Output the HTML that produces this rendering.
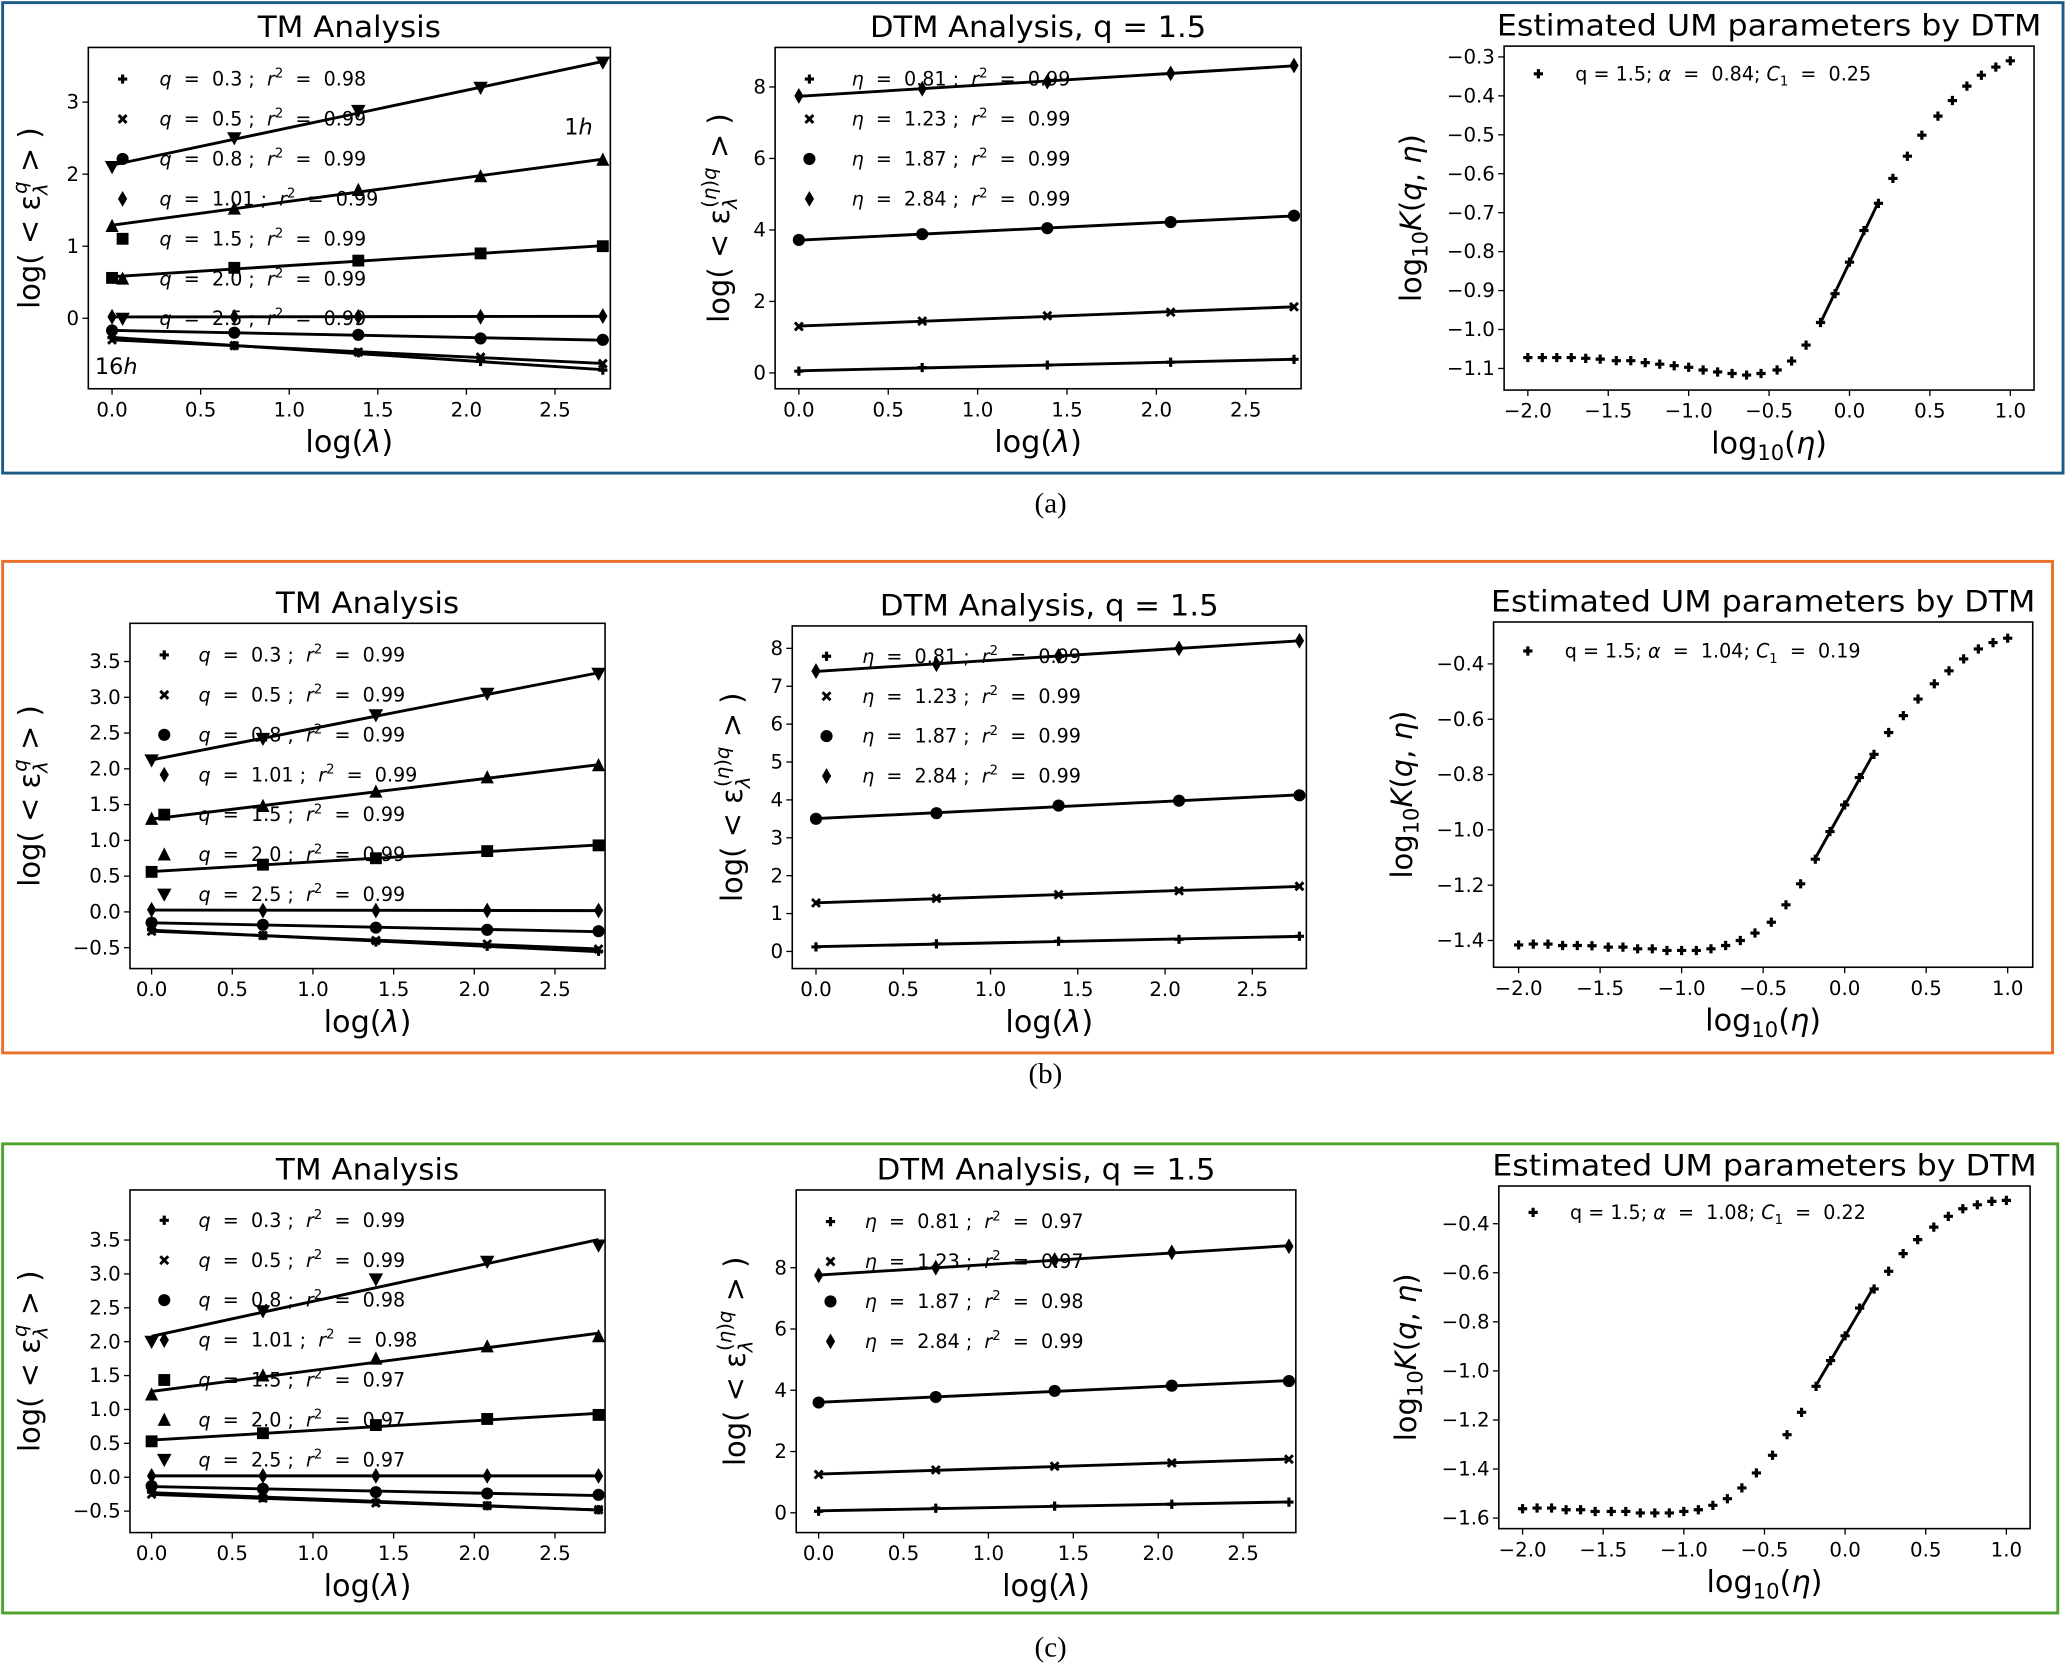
<!DOCTYPE html>
<html><head><meta charset="utf-8"><style>
html,body{margin:0;padding:0;background:#fff;}
svg{display:block;}
text{font-family:"DejaVu Sans","Liberation Sans",sans-serif;fill:#000;}
.pre{white-space:pre;}
</style></head><body>
<svg id="fig" xmlns="http://www.w3.org/2000/svg" width="2067" height="1667" viewBox="0 0 1568 1265" preserveAspectRatio="none">
<rect x="0" y="0" width="1568" height="1265" fill="#fff"/>
<rect x="2" y="2" width="1563" height="357" fill="none" stroke="#1b5c87" stroke-width="2.2"/>
<rect x="2" y="426" width="1555" height="373" fill="none" stroke="#e8702a" stroke-width="2.2"/>
<rect x="2" y="868" width="1559" height="356" fill="none" stroke="#4da32c" stroke-width="2.2"/>
<text x="797" y="389" text-anchor="middle" font-size="22" style="font-family:'Liberation Serif',serif">(a)</text>
<text x="793" y="822" text-anchor="middle" font-size="22" style="font-family:'Liberation Serif',serif">(b)</text>
<text x="797" y="1257" text-anchor="middle" font-size="22" style="font-family:'Liberation Serif',serif">(c)</text>
</svg>
<script>
// ---------- data ----------
const logLambda = [0, 0.69, 1.39, 2.08, 2.77];
const tmQ = ['0.3','0.5','0.8','1.01','1.5','2.0','2.5'];
const tmMarkers = ['plus','x','circle','diamond','square','tri','tridown'];
const tmA_r2 = ['0.98','0.99','0.99','0.99','0.99','0.99','0.99'];
const tmB_r2 = ['0.99','0.99','0.99','0.99','0.99','0.99','0.99'];
const tmC_r2 = ['0.99','0.99','0.98','0.98','0.97','0.97','0.97'];
const tmA_q03 = [-0.27,-0.38,-0.48,-0.60,-0.72];
const tmA_q05 = [-0.30,-0.38,-0.47,-0.54,-0.63];
const tmA_q08 = [-0.17,-0.20,-0.23,-0.28,-0.30];
const tmA_q101 = [0.02,0.02,0.02,0.02,0.03];
const tmA_q15 = [0.56,0.70,0.80,0.90,1.00];
const tmA_q20 = [1.28,1.52,1.78,1.97,2.20];
const tmA_q25 = [2.10,2.50,2.88,3.20,3.55];
const tmB_q03 = [-0.25,-0.33,-0.42,-0.48,-0.55];
const tmB_q05 = [-0.27,-0.33,-0.40,-0.45,-0.52];
const tmB_q08 = [-0.15,-0.18,-0.22,-0.25,-0.27];
const tmB_q101 = [0.03,0.02,0.02,0.02,0.02];
const tmB_q15 = [0.56,0.66,0.75,0.85,0.93];
const tmB_q20 = [1.30,1.48,1.68,1.88,2.05];
const tmB_q25 = [2.12,2.42,2.75,3.05,3.33];
const tmC_q03 = [-0.22,-0.30,-0.36,-0.42,-0.48];
const tmC_q05 = [-0.25,-0.31,-0.38,-0.42,-0.48];
const tmC_q08 = [-0.13,-0.17,-0.22,-0.24,-0.26];
const tmC_q101 = [0.02,0.02,0.02,0.02,0.02];
const tmC_q15 = [0.53,0.65,0.77,0.86,0.92];
const tmC_q20 = [1.22,1.50,1.75,1.93,2.08];
const tmC_q25 = [2.00,2.45,2.92,3.18,3.42];
const dtmEta = ['0.81','1.23','1.87','2.84'];
const dtmMarkers = ['plus','x','circle','diamond'];
const dtmA_r2 = ['0.99','0.99','0.99','0.99'];
const dtmB_r2 = ['0.99','0.99','0.99','0.99'];
const dtmC_r2 = ['0.97','0.97','0.98','0.99'];
const dtmA_e081 = [0.05,0.15,0.22,0.30,0.38];
const dtmA_e123 = [1.30,1.45,1.60,1.70,1.85];
const dtmA_e187 = [3.72,3.88,4.05,4.22,4.40];
const dtmA_e284 = [7.75,7.95,8.15,8.38,8.60];
const dtmB_e081 = [0.12,0.20,0.27,0.32,0.40];
const dtmB_e123 = [1.28,1.40,1.50,1.60,1.72];
const dtmB_e187 = [3.50,3.65,3.85,3.98,4.12];
const dtmB_e284 = [7.40,7.58,7.80,8.00,8.20];
const dtmC_e081 = [0.05,0.15,0.22,0.28,0.35];
const dtmC_e123 = [1.25,1.40,1.52,1.63,1.75];
const dtmC_e187 = [3.60,3.78,3.98,4.15,4.30];
const dtmC_e284 = [7.75,8.00,8.25,8.50,8.70];
const umLogEta = [-2.00,-1.91,-1.82,-1.73,-1.64,-1.55,-1.45,-1.36,-1.27,-1.18,-1.09,-1.00,-0.91,-0.82,-0.73,-0.64,-0.55,-0.45,-0.36,-0.27,-0.18,-0.09,0.00,0.09,0.18,0.27,0.36,0.45,0.55,0.64,0.73,0.82,0.91,1.00];
const umA_K = [-1.072,-1.072,-1.072,-1.072,-1.074,-1.076,-1.080,-1.080,-1.085,-1.089,-1.093,-1.097,-1.104,-1.109,-1.113,-1.117,-1.113,-1.104,-1.081,-1.040,-0.982,-0.908,-0.827,-0.746,-0.676,-0.612,-0.555,-0.501,-0.452,-0.412,-0.375,-0.347,-0.326,-0.310];
const umB_K = [-1.416,-1.413,-1.413,-1.418,-1.418,-1.419,-1.424,-1.424,-1.430,-1.430,-1.436,-1.436,-1.436,-1.430,-1.418,-1.400,-1.373,-1.334,-1.271,-1.195,-1.106,-1.006,-0.910,-0.811,-0.727,-0.648,-0.587,-0.527,-0.472,-0.425,-0.382,-0.346,-0.323,-0.307];
const umC_K = [-1.562,-1.559,-1.559,-1.566,-1.566,-1.573,-1.573,-1.573,-1.579,-1.579,-1.579,-1.573,-1.566,-1.548,-1.521,-1.477,-1.416,-1.344,-1.260,-1.169,-1.063,-0.958,-0.857,-0.744,-0.666,-0.594,-0.522,-0.465,-0.414,-0.370,-0.339,-0.323,-0.309,-0.305];
const umLabels = ['q = 1.5; <tspan font-style="italic">α</tspan>  =  0.84; <tspan font-style="italic">C</tspan><tspan dy="4" font-size="10">1</tspan><tspan dy="-4">  =  0.25</tspan>',
                  'q = 1.5; <tspan font-style="italic">α</tspan>  =  1.04; <tspan font-style="italic">C</tspan><tspan dy="4" font-size="10">1</tspan><tspan dy="-4">  =  0.19</tspan>',
                  'q = 1.5; <tspan font-style="italic">α</tspan>  =  1.08; <tspan font-style="italic">C</tspan><tspan dy="4" font-size="10">1</tspan><tspan dy="-4">  =  0.22</tspan>'];
const lamTicks = [0,0.5,1.0,1.5,2.0,2.5];
const lamTickLabels = ['0.0','0.5','1.0','1.5','2.0','2.5'];
const tmATicks = [0,1,2,3];
const tmATickLabels = ['0','1','2','3'];
const tmBCTicks = [-0.5,0,0.5,1,1.5,2,2.5,3,3.5];
const tmBCTickLabels = ['−0.5','0.0','0.5','1.0','1.5','2.0','2.5','3.0','3.5'];
const dtmACTicks = [0,2,4,6,8];
const dtmACTickLabels = ['0','2','4','6','8'];
const dtmBTicks = [0,1,2,3,4,5,6,7,8];
const dtmBTickLabels = ['0','1','2','3','4','5','6','7','8'];
const umXTicks = [-2,-1.5,-1,-0.5,0,0.5,1];
const umXTickLabels = ['−2.0','−1.5','−1.0','−0.5','0.0','0.5','1.0'];
const umATicks = [-1.1,-1.0,-0.9,-0.8,-0.7,-0.6,-0.5,-0.4,-0.3];
const umATickLabels = ['−1.1','−1.0','−0.9','−0.8','−0.7','−0.6','−0.5','−0.4','−0.3'];
const umBTicks = [-1.4,-1.2,-1.0,-0.8,-0.6,-0.4];
const umBTickLabels = ['−1.4','−1.2','−1.0','−0.8','−0.6','−0.4'];
const umCTicks = [-1.6,-1.4,-1.2,-1.0,-0.8,-0.6,-0.4];
const umCTickLabels = ['−1.6','−1.4','−1.2','−1.0','−0.8','−0.6','−0.4'];
const umFitRange = [-0.2, 0.2];

// ---------- drawing ----------
const NS = 'http://www.w3.org/2000/svg';
const svg = document.getElementById('fig');
function mk(tag, parent){ const e = document.createElementNS(NS, tag); parent.appendChild(e); return e; }

function drawMarker(g, type, cx, cy){
  let e;
  if (type === 'circle'){ e = mk('circle', g); e.setAttribute('cx', cx); e.setAttribute('cy', cy); e.setAttribute('r', 4.6); e.setAttribute('fill', '#000'); }
  else if (type === 'square'){ e = mk('rect', g); e.setAttribute('x', cx-4.5); e.setAttribute('y', cy-4.5); e.setAttribute('width', 9); e.setAttribute('height', 9); e.setAttribute('fill', '#000'); }
  else if (type === 'tri'){ e = mk('polygon', g); e.setAttribute('points', `${cx},${cy-5.5} ${cx+5},${cy+4.5} ${cx-5},${cy+4.5}`); e.setAttribute('fill', '#000'); }
  else if (type === 'tridown'){ e = mk('polygon', g); e.setAttribute('points', `${cx},${cy+5.5} ${cx+5.5},${cy-4.5} ${cx-5.5},${cy-4.5}`); e.setAttribute('fill', '#000'); }
  else if (type === 'diamond'){ e = mk('polygon', g); e.setAttribute('points', `${cx},${cy-6} ${cx+3.5},${cy} ${cx},${cy+6} ${cx-3.5},${cy}`); e.setAttribute('fill', '#000'); }
  else if (type === 'x'){ e = mk('path', g); e.setAttribute('d', `M${cx-3},${cy-3}L${cx+3},${cy+3}M${cx-3},${cy+3}L${cx+3},${cy-3}`); e.setAttribute('stroke', '#000'); e.setAttribute('stroke-width', 2.2); }
  else { e = mk('path', g); e.setAttribute('d', `M${cx-3.5},${cy}L${cx+3.5},${cy}M${cx},${cy-3.5}L${cx},${cy+3.5}`); e.setAttribute('stroke', '#000'); e.setAttribute('stroke-width', 2.4); }
  
  
}

function fitLine(xs, ys){
  const n = xs.length; let sx=0, sy=0, sxx=0, sxy=0;
  for (let i=0;i<n;i++){ sx+=xs[i]; sy+=ys[i]; sxx+=xs[i]*xs[i]; sxy+=xs[i]*ys[i]; }
  const m = (n*sxy - sx*sy)/(n*sxx - sx*sx); return [m, (sy - m*sx)/n];
}

function plot(p){
  const g = mk('g', svg);
  
  
  const X = v => p.xr[1] + (v - p.xr[0]) * (p.xr[3] - p.xr[1]) / (p.xr[2] - p.xr[0]);
  const Y = v => p.yr[1] + (v - p.yr[0]) * (p.yr[3] - p.yr[1]) / (p.yr[2] - p.yr[0]);
  const t = mk('text', g); t.textContent = p.title;
  
  
  t.setAttribute('x', (p.l + p.r) / 2); t.setAttribute('y', p.t - 8); t.setAttribute('text-anchor', 'middle'); t.setAttribute('font-size', 22);
  t.setAttribute('textLength', p.titleW); t.setAttribute('lengthAdjust', 'spacingAndGlyphs');
  p.xticks.forEach((v, i) => {
    const tk = mk('line', g); tk.setAttribute('x1', X(v)); tk.setAttribute('x2', X(v)); tk.setAttribute('y1', p.b); tk.setAttribute('y2', p.b + 4.5); tk.setAttribute('stroke', '#000');
    
    
    const tl = mk('text', g); tl.textContent = p.xtickLabels[i];
    
    
    tl.setAttribute('x', X(v)); tl.setAttribute('y', p.b + 21); tl.setAttribute('text-anchor', 'middle'); tl.setAttribute('font-size', 15);
  });
  p.yticks.forEach((v, i) => {
    const tk = mk('line', g); tk.setAttribute('x1', p.l - 4.5); tk.setAttribute('x2', p.l); tk.setAttribute('y1', Y(v)); tk.setAttribute('y2', Y(v)); tk.setAttribute('stroke', '#000');
    
    
    const tl = mk('text', g); tl.textContent = p.ytickLabels[i];
    
    
    tl.setAttribute('x', p.l - 7); tl.setAttribute('y', Y(v) + 5); tl.setAttribute('text-anchor', 'end'); tl.setAttribute('font-size', 15);
  });
  const xl = mk('text', g); xl.innerHTML = p.xlabel;
  
  
  xl.setAttribute('x', (p.l + p.r) / 2); xl.setAttribute('y', p.b + 48); xl.setAttribute('text-anchor', 'middle'); xl.setAttribute('font-size', 23);
  const yl = mk('text', g); yl.innerHTML = p.ylabel;
  
  
  const yc = (p.t + p.b) / 2;
  yl.setAttribute('transform', `translate(${p.ylx},${yc}) rotate(-90)`); yl.setAttribute('text-anchor', 'middle'); yl.setAttribute('font-size', 22);
  p.series.forEach((s, si) => {
    const sg = mk('g', g);
    
    
    if (s.fit){
      let fx = [], fy = [];
      s.x.forEach((xv, i) => { if (xv >= s.fit[0] && xv <= s.fit[1]) { fx.push(xv); fy.push(s.y[i]); } });
      const [m, c] = fitLine(fx, fy);
      const x0 = fx[0], x1 = fx[fx.length - 1];
      const ln = mk('line', sg);
      
      
      ln.setAttribute('x1', X(x0)); ln.setAttribute('y1', Y(m*x0 + c)); ln.setAttribute('x2', X(x1)); ln.setAttribute('y2', Y(m*x1 + c));
      ln.setAttribute('stroke', '#000'); ln.setAttribute('stroke-width', 2.2);
    }
    s.x.forEach((xv, i) => drawMarker(sg, s.marker, X(xv), Y(s.y[i])));
  });
  p.legend.forEach((lg, i) => {
    const ly = p.t + p.legOff + i * 30.3;
    const lgG = mk('g', g);
    
    
    drawMarker(lgG, lg.marker, p.l + 26, ly);
    const lt = mk('text', lgG); lt.innerHTML = lg.text;
    lt.setAttribute('class', 'pre');
    lt.setAttribute('x', p.l + p.legTx); lt.setAttribute('y', ly + 5); lt.setAttribute('font-size', 14.5);
  });
  (p.notes || []).forEach(n => {
    const nt = mk('text', g); nt.innerHTML = n.text;
    
    
    nt.setAttribute('x', n.x); nt.setAttribute('y', n.y); nt.setAttribute('font-size', 17);
  });
  const box = mk('rect', g);
  
  
  box.setAttribute('x', p.l); box.setAttribute('y', p.t); box.setAttribute('width', p.r - p.l); box.setAttribute('height', p.b - p.t);
  box.setAttribute('fill', 'none'); box.setAttribute('stroke', '#000'); box.setAttribute('stroke-width', 1.2);
}

const lamLabel = 'log(<tspan font-style="italic">λ</tspan>)';
const etaLabel = 'log<tspan dy="5" font-size="16">10</tspan><tspan dy="-5">(</tspan><tspan font-style="italic">η</tspan>)';
const tmYLabel = 'log( &lt; ε<tspan dy="6" font-size="15" font-style="italic">λ</tspan><tspan dx="-8" dy="-16" font-size="15" font-style="italic">q</tspan><tspan dy="10"> &gt; )</tspan>';
const dtmYLabel = 'log( &lt; ε<tspan dy="6" font-size="15" font-style="italic">λ</tspan><tspan dx="-8" dy="-16" font-size="15">(<tspan font-style="italic">η</tspan>)<tspan font-style="italic">q</tspan></tspan><tspan dy="10"> &gt; )</tspan>';
const umYLabel = 'log<tspan dy="5" font-size="16">10</tspan><tspan dy="-5" font-style="italic">K</tspan>(<tspan font-style="italic">q</tspan>, <tspan font-style="italic">η</tspan>)';

function tmLeg(r2){ return tmQ.map((q, i) => ({marker: tmMarkers[i], text: `<tspan font-style="italic">q</tspan>  =  ${q} ;  <tspan font-style="italic">r</tspan><tspan dy="-6" font-size="10">2</tspan><tspan dy="6">  =  ${r2[i]}</tspan>`})); }
function dtmLeg(r2){ return dtmEta.map((e, i) => ({marker: dtmMarkers[i], text: `<tspan font-style="italic">η</tspan>  =  ${e} ;  <tspan font-style="italic">r</tspan><tspan dy="-6" font-size="10">2</tspan><tspan dy="6">  =  ${r2[i]}</tspan>`})); }
function tmSeries(arrs){ return arrs.map((a, i) => ({key: 'q-' + tmQ[i], marker: tmMarkers[i], x: logLambda, y: a, fit: [-1, 9]})); }
function dtmSeries(arrs){ return arrs.map((a, i) => ({key: 'eta-' + dtmEta[i], marker: dtmMarkers[i], x: logLambda, y: a, fit: [-1, 9]})); }

// Panel (a)
plot({name:'tm-plot-a', title:'TM Analysis', titleW:139, l:67, t:36, r:463, b:295, xr:[0,85,2.5,421], yr:[0,241.5,3,77.5],
  xticks:lamTicks, xtickLabels:lamTickLabels, yticks:tmATicks, ytickLabels:tmATickLabels, xlabel:lamLabel, ylabel:tmYLabel, ylx:30,
  series: tmSeries([tmA_q03,tmA_q05,tmA_q08,tmA_q101,tmA_q15,tmA_q20,tmA_q25]), legend: tmLeg(tmA_r2), legOff:24, legTx:54,
  notes:[{x:428,y:102,text:'1<tspan font-style="italic">h</tspan>'},{x:72,y:284,text:'16<tspan font-style="italic">h</tspan>'}]});
plot({name:'dtm-plot-a', title:'DTM Analysis, q = 1.5', titleW:255, l:588, t:36, r:987, b:295, xr:[0,606,2.5,945], yr:[0,283,8,66],
  xticks:lamTicks, xtickLabels:lamTickLabels, yticks:dtmACTicks, ytickLabels:dtmACTickLabels, xlabel:lamLabel, ylabel:dtmYLabel, ylx:553,
  series: dtmSeries([dtmA_e081,dtmA_e123,dtmA_e187,dtmA_e284]), legend: dtmLeg(dtmA_r2), legOff:24, legTx:58});
plot({name:'um-plot-a', title:'Estimated UM parameters by DTM', titleW:413, l:1141, t:35, r:1543, b:296, xr:[-2,1159,1,1525], yr:[-0.3,43.2,-1.1,279.6],
  xticks:umXTicks, xtickLabels:umXTickLabels, yticks:umATicks, ytickLabels:umATickLabels, xlabel:etaLabel, ylabel:umYLabel, ylx:1078,
  series:[{key:'K-a', marker:'plus', x:umLogEta, y:umA_K, fit:umFitRange}], legend:[{marker:'plus', text:umLabels[0]}], legOff:21, legTx:54});
// Panel (b)
plot({name:'tm-plot-b', title:'TM Analysis', titleW:139, l:98.6, t:473, r:459, b:735, xr:[0,115,2.5,421], yr:[0,692,3.5,502],
  xticks:lamTicks, xtickLabels:lamTickLabels, yticks:tmBCTicks, ytickLabels:tmBCTickLabels, xlabel:lamLabel, ylabel:tmYLabel, ylx:30,
  series: tmSeries([tmB_q03,tmB_q05,tmB_q08,tmB_q101,tmB_q15,tmB_q20,tmB_q25]), legend: tmLeg(tmB_r2), legOff:24, legTx:52});
plot({name:'dtm-plot-b', title:'DTM Analysis, q = 1.5', titleW:257, l:601, t:475, r:991, b:735, xr:[0,619,2.5,950], yr:[0,722,8,492],
  xticks:lamTicks, xtickLabels:lamTickLabels, yticks:dtmBTicks, ytickLabels:dtmBTickLabels, xlabel:lamLabel, ylabel:dtmYLabel, ylx:563,
  series: dtmSeries([dtmB_e081,dtmB_e123,dtmB_e187,dtmB_e284]), legend: dtmLeg(dtmB_r2), legOff:23, legTx:53});
plot({name:'um-plot-b', title:'Estimated UM parameters by DTM', titleW:413, l:1133, t:472, r:1542, b:734, xr:[-2,1152,1,1523], yr:[-0.4,503.8,-1.4,713.7],
  xticks:umXTicks, xtickLabels:umXTickLabels, yticks:umBTicks, ytickLabels:umBTickLabels, xlabel:etaLabel, ylabel:umYLabel, ylx:1071,
  series:[{key:'K-b', marker:'plus', x:umLogEta, y:umB_K, fit:umFitRange}], legend:[{marker:'plus', text:umLabels[1]}], legOff:22, legTx:54});
// Panel (c)
plot({name:'tm-plot-c', title:'TM Analysis', titleW:139, l:98.6, t:903, r:459, b:1163, xr:[0,115,2.5,421], yr:[0,1121,3.5,941],
  xticks:lamTicks, xtickLabels:lamTickLabels, yticks:tmBCTicks, ytickLabels:tmBCTickLabels, xlabel:lamLabel, ylabel:tmYLabel, ylx:30,
  series: tmSeries([tmC_q03,tmC_q05,tmC_q08,tmC_q101,tmC_q15,tmC_q20,tmC_q25]), legend: tmLeg(tmC_r2), legOff:23, legTx:52});
plot({name:'dtm-plot-c', title:'DTM Analysis, q = 1.5', titleW:257, l:604, t:903, r:983, b:1163, xr:[0,621,2.5,943], yr:[0,1148,8,962],
  xticks:lamTicks, xtickLabels:lamTickLabels, yticks:dtmACTicks, ytickLabels:dtmACTickLabels, xlabel:lamLabel, ylabel:dtmYLabel, ylx:565,
  series: dtmSeries([dtmC_e081,dtmC_e123,dtmC_e187,dtmC_e284]), legend: dtmLeg(dtmC_r2), legOff:24, legTx:52});
plot({name:'um-plot-c', title:'Estimated UM parameters by DTM', titleW:413, l:1137, t:900, r:1540, b:1160, xr:[-2,1155,1,1522], yr:[-0.4,928.6,-1.6,1152],
  xticks:umXTicks, xtickLabels:umXTickLabels, yticks:umCTicks, ytickLabels:umCTickLabels, xlabel:etaLabel, ylabel:umYLabel, ylx:1074,
  series:[{key:'K-c', marker:'plus', x:umLogEta, y:umC_K, fit:umFitRange}], legend:[{marker:'plus', text:umLabels[2]}], legOff:20, legTx:54});
</script>
</body></html>
